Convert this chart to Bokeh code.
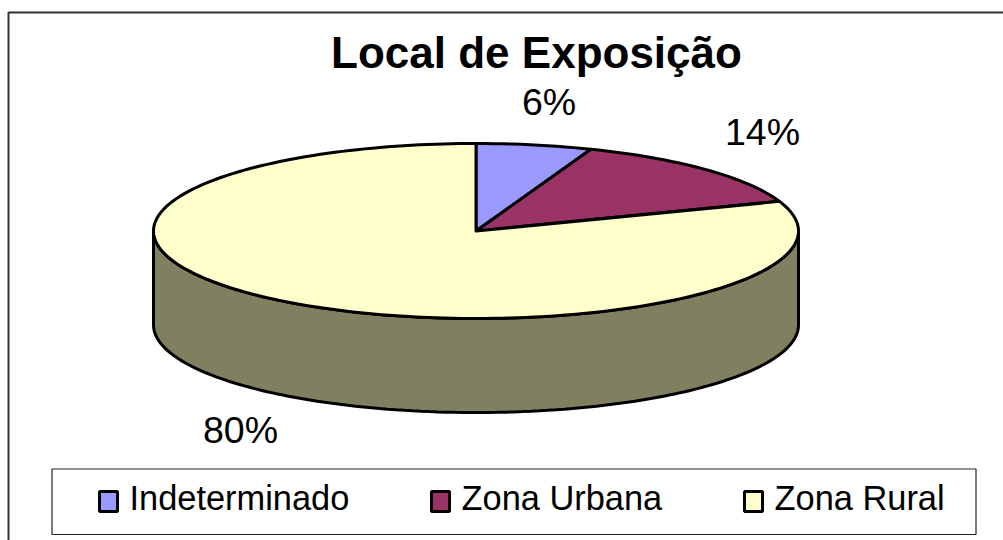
import numpy as np
from bokeh.plotting import figure
from bokeh.models import Range1d
from bokeh.core.properties import value
from bokeh.embed import file_html
from bokeh.resources import INLINE

title = "Local de Exposição"
categories = ["Indeterminado", "Zona Urbana", "Zona Rural"]
values = [5.8, 13.7, 80.5]
labels = ["6%", "14%", "80%"]
colors = ["#9999FF", "#993366", "#FFFFCC"]
side_color = "#808060"

FONT = value("Liberation Sans")
CX, CY, RX, RY, DEPTH = 475.5, 230.5, 322.5, 87.5, 94

p = figure(width=1003, height=540, output_backend="svg", toolbar_location=None,
           x_range=Range1d(0, 1003), y_range=Range1d(540, 0),
           min_border=0, outline_line_color=None)
p.xaxis.visible = False
p.yaxis.visible = False
p.grid.visible = False

# chart frame
p.line([8, 8, 1003], [540, 12, 12], line_color="#333333", line_width=2)

# wall of the disc
t = np.linspace(np.pi / 2, 3 * np.pi / 2, 120)   # angle clockwise from the top
xf = CX + RX * np.sin(t)
yf = CY - RY * np.cos(t)
p.patch(np.r_[xf, xf[::-1]], np.r_[yf, yf[::-1] + DEPTH],
        fill_color=side_color, line_color="black", line_width=3)

# slices
cum = np.cumsum([0] + values) / sum(values) * 2 * np.pi
for a0, a1, c in zip(cum[:-1], cum[1:], colors):
    a = np.linspace(a0, a1, max(int((a1 - a0) * 40), 8))
    p.patch(np.r_[CX, CX + RX * np.sin(a)], np.r_[CY, CY - RY * np.cos(a)],
            fill_color=c, line_color="black", line_width=3, line_join="round")

# texts
p.text([536], [52], text=[title], text_font=FONT, text_font_size="44px", text_font_style="bold",
       text_align="center", text_baseline="alphabetic", text_color="black")
p.text([521.5, 724.5, 202.5], [101.5, 131, 429.5], text=labels, text_font=FONT, text_font_size="37.5px",
       text_baseline="alphabetic", text_color="black")

# legend
p.quad(left=[51.5], right=[975.5], top=[468.5], bottom=[534], fill_color="white",
       line_color="#222222", line_width=1.2)
p.quad(left=[99, 431, 744], right=[117, 449, 762], top=[491, 491, 491], bottom=[511, 511, 511],
       fill_color=colors, line_color="black", line_width=3)
p.text([129, 461, 774], [497, 497, 497], text=categories, text_font=FONT, text_font_size="34.4px",
       text_baseline="alphabetic", text_color="black")

open("out.html", "w").write(file_html(p, INLINE))
